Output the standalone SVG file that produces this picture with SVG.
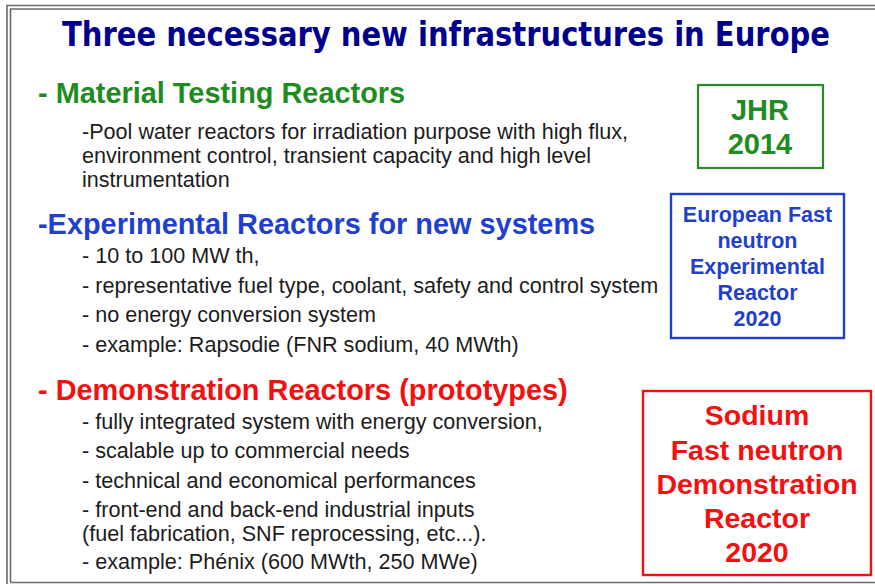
<svg xmlns="http://www.w3.org/2000/svg" width="875" height="584" viewBox="0 0 875 584">
<style>
.body{font-family:"Liberation Sans",Arial,sans-serif;font-size:21.6px;fill:#1c1c1c}
.head{font-family:"Liberation Sans",Arial,sans-serif;font-size:28.9px;font-weight:bold}
.box{font-family:"Liberation Sans",Arial,sans-serif;font-weight:bold;text-anchor:middle}
.frame{fill:none;stroke:#6a6a6a;stroke-width:1.6}
</style>
<rect width="875" height="584" fill="#ffffff"/>
<g id="frame">
<path class="frame" d="M7,584 V5.5 H875"/>
<path class="frame" d="M10.5,582.5 V9 H875 M10.5,582.5 H875"/>
</g>
<g id="title">
<text x="62" y="46" textLength="768" lengthAdjust="spacingAndGlyphs" style="font-family:'DejaVu Sans Condensed','DejaVu Sans',sans-serif;font-weight:bold;font-size:34px;fill:#00008e">Three necessary new infrastructures in Europe</text>
</g>
<g id="section-mtr">
<text class="head" x="38" y="103" fill="#1e8c1e">- Material Testing Reactors</text>
<text class="body" x="82" y="139">-Pool water reactors for irradiation purpose with high flux,</text>
<text class="body" x="82" y="163">environment control, transient capacity and high level</text>
<text class="body" x="82" y="187">instrumentation</text>
</g>
<g id="section-experimental">
<text class="head" x="38" y="234" fill="#1f3fcc">-Experimental Reactors for new systems</text>
<text class="body" x="82" y="263">- 10 to 100 MW th,</text>
<text class="body" x="82" y="293">- representative fuel type, coolant, safety and control system</text>
<text class="body" x="82" y="322">- no energy conversion system</text>
<text class="body" x="82" y="352">- example: Rapsodie (FNR sodium, 40 MWth)</text>
</g>
<g id="section-demonstration">
<text class="head" x="38" y="400" fill="#f50f0f">- Demonstration Reactors (prototypes)</text>
<text class="body" x="82" y="429">- fully integrated system with energy conversion,</text>
<text class="body" x="82" y="458">- scalable up to commercial needs</text>
<text class="body" x="82" y="488">- technical and economical performances</text>
<text class="body" x="82" y="517">- front-end and back-end industrial inputs</text>
<text class="body" x="82" y="541">(fuel fabrication, SNF reprocessing, etc...).</text>
<text class="body" x="82" y="569">- example: Phénix (600 MWth, 250 MWe)</text>
</g>
<g id="box-jhr">
<rect x="698" y="85" width="125" height="83" fill="none" stroke="#2a8a2a" stroke-width="2.2"/>
<text class="box" x="760" y="120" style="font-size:29px;fill:#1e8c1e">JHR</text>
<text class="box" x="760" y="154" style="font-size:29px;fill:#1e8c1e">2014</text>
</g>
<g id="box-efer">
<rect x="671" y="194" width="173" height="144" fill="none" stroke="#1f3fcc" stroke-width="2.4"/>
<text class="box" x="757.5" y="222" style="font-size:21.5px;fill:#1f3fcc">European Fast</text>
<text class="box" x="757.5" y="248" style="font-size:21.5px;fill:#1f3fcc">neutron</text>
<text class="box" x="757.5" y="274" style="font-size:21.5px;fill:#1f3fcc">Experimental</text>
<text class="box" x="757.5" y="300" style="font-size:21.5px;fill:#1f3fcc">Reactor</text>
<text class="box" x="757.5" y="326" style="font-size:21.5px;fill:#1f3fcc">2020</text>
</g>
<g id="box-sfdr">
<rect x="643" y="391" width="228" height="184" fill="none" stroke="#f50f0f" stroke-width="2.4"/>
<text class="box" x="757" y="425" style="font-size:28.5px;fill:#f50f0f">Sodium</text>
<text class="box" x="757" y="460" style="font-size:28.5px;fill:#f50f0f">Fast neutron</text>
<text class="box" x="757" y="494" style="font-size:28.5px;fill:#f50f0f">Demonstration</text>
<text class="box" x="757" y="528" style="font-size:28.5px;fill:#f50f0f">Reactor</text>
<text class="box" x="757" y="562" style="font-size:28.5px;fill:#f50f0f">2020</text>
</g>
<g id="connectors"/>
</svg>
